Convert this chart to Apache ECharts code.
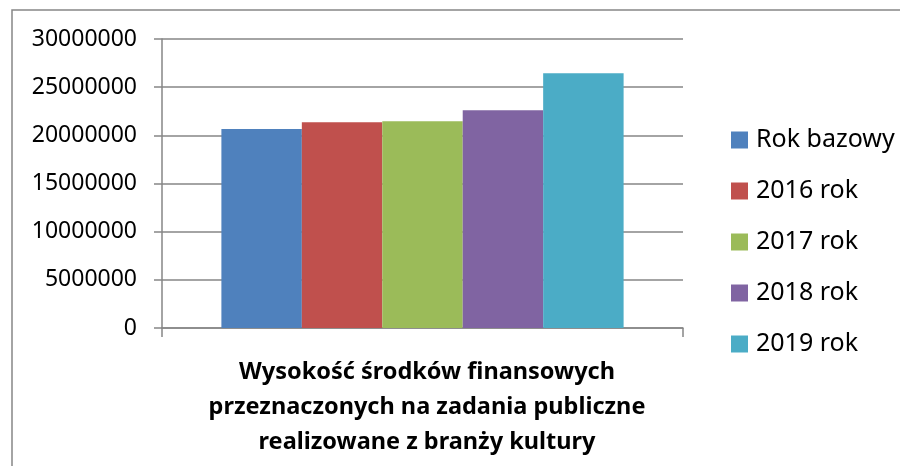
<!DOCTYPE html>
<html>
<head>
<meta charset="utf-8">
<script src="https://cdn.jsdelivr.net/npm/echarts@6/dist/echarts.min.js"></script>
<style>
  html, body { margin: 0; padding: 0; background: #ffffff; }
  #chart { width: 900px; height: 466px; }
</style>
</head>
<body>
<div id="chart"></div>
<script>
// Category shown under the bars
const categories = ['Wysokość środków finansowych\nprzeznaczonych na zadania publiczne\nrealizowane z branży kultury'];

// One series per year
const seriesNames = ['Rok bazowy', '2016 rok', '2017 rok', '2018 rok', '2019 rok'];
const rokBazowy = [20650000];
const rok2016 = [21370000];
const rok2017 = [21470000];
const rok2018 = [22610000];
const rok2019 = [26450000];
const seriesValues = [rokBazowy, rok2016, rok2017, rok2018, rok2019];

const palette = ['#4F81BD', '#C0504D', '#9BBB59', '#8064A2', '#4BACC6'];

const axisGray = '#868686';
const fontFamily = '"Noto Sans", "Open Sans", sans-serif';

const chart = echarts.init(document.getElementById('chart'), null, { renderer: 'canvas' });

chart.setOption({
  animation: false,
  backgroundColor: '#ffffff',
  color: palette,
  graphic: [{
    type: 'rect',
    shape: { x: 12, y: 10, width: 900, height: 470 },
    style: { fill: 'none', stroke: axisGray, lineWidth: 1.5 },
    silent: true
  }],
  legend: {
    orient: 'vertical',
    left: 726,
    top: 122,
    icon: 'rect',
    itemWidth: 17,
    itemHeight: 17,
    itemGap: 25,
    data: seriesNames,
    textStyle: {
      fontFamily: fontFamily,
      fontSize: 25,
      lineHeight: 26,
      color: '#000000',
      padding: [0, 0, 0, 3]
    }
  },
  grid: {
    left: 162,
    right: 217,
    top: 39,
    bottom: 138,
    containLabel: false
  },
  xAxis: {
    type: 'category',
    data: categories,
    boundaryGap: true,
    axisLine: { show: true, lineStyle: { color: axisGray, width: 1.5 } },
    axisTick: { show: true, length: 9, lineStyle: { color: axisGray, width: 1.5 } },
    axisLabel: {
      margin: 27,
      fontFamily: fontFamily,
      fontSize: 23.5,
      fontWeight: 'bold',
      lineHeight: 35,
      color: '#000000',
      align: 'center',
      padding: [0, 0, 0, 9]
    }
  },
  yAxis: {
    type: 'value',
    min: 0,
    max: 30000000,
    interval: 5000000,
    axisLine: { show: true, lineStyle: { color: axisGray, width: 1.5 } },
    axisTick: { show: true, length: 8, lineStyle: { color: axisGray, width: 1.5 } },
    splitLine: { show: true, lineStyle: { color: axisGray, width: 1.5 } },
    axisLabel: {
      margin: 25,
      fontFamily: fontFamily,
      fontSize: 23,
      color: '#000000',
      formatter: v => String(v)
    }
  },
  series: seriesNames.map((name, i) => ({
    name: name,
    type: 'bar',
    data: seriesValues[i],
    barGap: '0%',
    barCategoryGap: '22.8%',
    itemStyle: { color: palette[i] }
  }))
});
</script>
</body>
</html>
